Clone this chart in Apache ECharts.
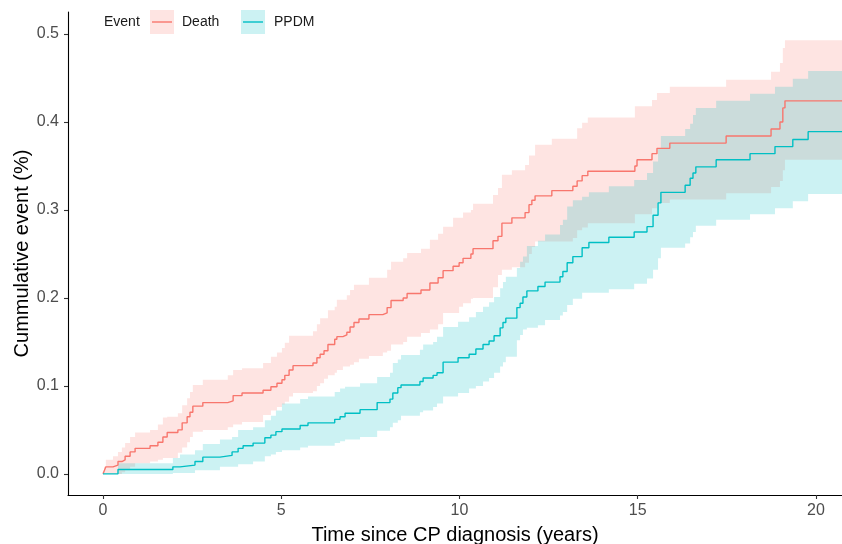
<!DOCTYPE html>
<html>
<head>
<meta charset="utf-8">
<script src="https://cdn.jsdelivr.net/npm/echarts@6/dist/echarts.min.js"></script>
<style>
  html, body { margin: 0; padding: 0; background: #fff; }
  #main { width: 842px; height: 544px; }
</style>
</head>
<body>
<div id="main"></div>
<script>
// cumulative incidence (years, proportion)
var deathTime = [0, 0.03, 0.08, 0.28, 0.42, 0.53, 0.62, 0.76, 0.9, 1.32,
  1.54, 1.68, 1.8, 2.1, 2.22, 2.36, 2.44, 2.52, 2.8, 3.5,
  3.65, 3.9, 4.49, 4.71, 4.88, 5.02, 5.1, 5.22, 5.33, 5.89,
  6.0, 6.09, 6.2, 6.31, 6.5, 6.56, 6.73, 6.84, 6.93, 7.04,
  7.18, 7.46, 7.85, 7.97, 8.08, 8.42, 8.53, 8.92, 9.17, 9.4,
  9.54, 9.82, 9.99, 10.1, 10.32, 10.38, 10.94, 11.08, 11.19, 11.47,
  11.84, 11.95, 12.03, 12.12, 12.59, 13.18, 13.3, 13.44, 13.6, 14.92,
  14.98, 15.4, 15.54, 15.9, 17.48, 18.74, 18.99, 19.07, 19.13, 20.73];
var deathEst = [0, 0.003, 0.008, 0.01, 0.014, 0.016, 0.02, 0.025, 0.029, 0.032,
  0.036, 0.042, 0.047, 0.05, 0.058, 0.065, 0.07, 0.077, 0.081, 0.083,
  0.089, 0.092, 0.095, 0.099, 0.103, 0.107, 0.112, 0.118, 0.123, 0.126,
  0.132, 0.136, 0.14, 0.147, 0.153, 0.156, 0.158, 0.161, 0.167, 0.172,
  0.176, 0.181, 0.183, 0.189, 0.197, 0.2, 0.205, 0.209, 0.217, 0.223,
  0.231, 0.236, 0.24, 0.245, 0.25, 0.256, 0.265, 0.27, 0.285, 0.291,
  0.297, 0.306, 0.311, 0.316, 0.322, 0.327, 0.333, 0.339, 0.344, 0.35,
  0.357, 0.364, 0.37, 0.376, 0.384, 0.392, 0.4, 0.416, 0.424, 0.424];
var deathLow = [0, 0, 0, 0, 0, 0.002, 0.004, 0.008, 0.012, 0.014,
  0.016, 0.018, 0.018, 0.024, 0.03, 0.036, 0.042, 0.048, 0.05, 0.053,
  0.056, 0.059, 0.067, 0.072, 0.076, 0.079, 0.082, 0.088, 0.092, 0.094,
  0.1, 0.103, 0.108, 0.112, 0.115, 0.118, 0.122, 0.122, 0.124, 0.127,
  0.131, 0.134, 0.138, 0.14, 0.147, 0.15, 0.156, 0.16, 0.164, 0.17,
  0.183, 0.183, 0.19, 0.194, 0.199, 0.2, 0.212, 0.226, 0.232, 0.235,
  0.24, 0.25, 0.258, 0.264, 0.264, 0.268, 0.277, 0.28, 0.285, 0.295,
  0.295, 0.302, 0.308, 0.312, 0.319, 0.326, 0.333, 0.345, 0.357, 0.357];
var deathHigh = [0, 0.008, 0.016, 0.02, 0.025, 0.03, 0.035, 0.042, 0.047, 0.05,
  0.056, 0.064, 0.065, 0.069, 0.078, 0.086, 0.093, 0.101, 0.107, 0.112,
  0.118, 0.12, 0.126, 0.133, 0.138, 0.143, 0.149, 0.157, 0.157, 0.162,
  0.17, 0.177, 0.177, 0.186, 0.19, 0.198, 0.198, 0.203, 0.209, 0.215,
  0.215, 0.223, 0.223, 0.232, 0.241, 0.245, 0.251, 0.256, 0.266, 0.273,
  0.281, 0.291, 0.291, 0.297, 0.3, 0.307, 0.317, 0.325, 0.34, 0.345,
  0.351, 0.362, 0.362, 0.374, 0.381, 0.381, 0.393, 0.399, 0.405, 0.418,
  0.418, 0.425, 0.433, 0.44, 0.448, 0.457, 0.467, 0.484, 0.493, 0.493];

var ppdmTime = [0, 0.42, 1.96, 2.16, 2.58, 2.8, 3.28, 3.62, 3.79, 3.93,
  4.21, 4.54, 4.71, 4.85, 5.02, 5.53, 5.75, 6.5, 6.65, 6.79,
  7.21, 7.69, 8.05, 8.13, 8.27, 8.36, 8.89, 8.98, 9.26, 9.37,
  9.54, 9.96, 10.27, 10.46, 10.66, 10.83, 10.97, 11.14, 11.22, 11.3,
  11.61, 11.7, 11.78, 11.89, 12.2, 12.4, 12.82, 12.9, 13.02, 13.18,
  13.44, 13.63, 14.19, 14.9, 15.26, 15.43, 15.57, 15.65, 16.33, 16.47,
  16.55, 16.63, 17.2, 18.15, 18.85, 19.35, 19.78, 20.73];
var ppdmEst = [0, 0.005, 0.008, 0.01, 0.014, 0.019, 0.021, 0.025, 0.029, 0.032,
  0.035, 0.041, 0.044, 0.048, 0.051, 0.055, 0.058, 0.062, 0.065, 0.069,
  0.073, 0.081, 0.085, 0.092, 0.098, 0.101, 0.105, 0.109, 0.112, 0.115,
  0.127, 0.132, 0.136, 0.142, 0.147, 0.151, 0.157, 0.166, 0.172, 0.177,
  0.189, 0.194, 0.201, 0.208, 0.213, 0.218, 0.224, 0.23, 0.24, 0.247,
  0.257, 0.263, 0.269, 0.275, 0.281, 0.294, 0.308, 0.32, 0.328, 0.336,
  0.342, 0.349, 0.357, 0.364, 0.372, 0.38, 0.389, 0.389];
var ppdmLow = [0, 0, 0.001, 0.001, 0.004, 0.004, 0.008, 0.008, 0.011, 0.011,
  0.014, 0.02, 0.022, 0.025, 0.027, 0.03, 0.032, 0.035, 0.037, 0.039,
  0.042, 0.049, 0.053, 0.058, 0.061, 0.066, 0.07, 0.072, 0.076, 0.08,
  0.088, 0.092, 0.097, 0.1, 0.105, 0.109, 0.115, 0.122, 0.127, 0.133,
  0.152, 0.158, 0.164, 0.166, 0.169, 0.175, 0.18, 0.184, 0.192, 0.199,
  0.206, 0.206, 0.21, 0.216, 0.222, 0.232, 0.245, 0.257, 0.262, 0.269,
  0.275, 0.282, 0.289, 0.295, 0.302, 0.31, 0.318, 0.318];
var ppdmHigh = [0, 0.012, 0.018, 0.022, 0.027, 0.034, 0.039, 0.042, 0.05, 0.05,
  0.053, 0.061, 0.066, 0.072, 0.08, 0.085, 0.088, 0.093, 0.097, 0.099,
  0.103, 0.11, 0.115, 0.126, 0.13, 0.135, 0.141, 0.147, 0.15, 0.156,
  0.167, 0.173, 0.178, 0.184, 0.19, 0.195, 0.201, 0.211, 0.218, 0.224,
  0.234, 0.241, 0.247, 0.259, 0.265, 0.272, 0.283, 0.289, 0.304, 0.311,
  0.315, 0.32, 0.327, 0.334, 0.342, 0.355, 0.37, 0.384, 0.392, 0.398,
  0.408, 0.416, 0.424, 0.432, 0.44, 0.449, 0.458, 0.458];

var xTicks = [0, 5, 10, 15, 20];
var yTicks = [0, 0.1, 0.2, 0.3, 0.4, 0.5];

var deathColor = '#F8766D';
var ppdmColor = '#00BFC4';
var deathFill = 'rgba(248,118,109,0.2)';
var ppdmFill = 'rgba(0,191,196,0.2)';
var font = '"Liberation Sans", Arial, Helvetica, sans-serif';

function pairs(xs, ys) {
  return xs.map(function (x, i) { return [x, ys[i]]; });
}

// confidence ribbon as one step-shaped polygon, placed with api.coord
function ribbon(name, t, lo, hi, fill) {
  return {
    name: name, type: 'custom', silent: true, z: 1, clip: true,
    data: t.map(function (x, i) { return [x, lo[i], hi[i]]; }),
    encode: { x: 0, y: [1, 2] },
    renderItem: function (params, api) {
      if (params.dataIndex !== 0) return null;
      var top = [], bottom = [];
      for (var i = 0; i < t.length; i++) {
        var next = i + 1 < t.length ? t[i + 1] : t[i];
        top.push(api.coord([t[i], hi[i]]), api.coord([next, hi[i]]));
        bottom.push(api.coord([t[i], lo[i]]), api.coord([next, lo[i]]));
      }
      return {
        type: 'polygon',
        shape: { points: top.concat(bottom.reverse()) },
        style: { fill: fill, stroke: null }
      };
    }
  };
}
function stepLine(name, t, est, color) {
  return {
    name: name, type: 'line', step: 'end', symbol: 'none', z: 3,
    lineStyle: { color: color, width: 1.4 },
    itemStyle: { color: color },
    data: pairs(t, est)
  };
}

var myChart = echarts.init(document.getElementById('main'), null, { renderer: 'canvas' });

var option = {
  animation: false,
  backgroundColor: '#fff',
  grid: { left: 68, right: 0, top: 12, bottom: 49, outerBoundsMode: 'none' },
  xAxis: {
    type: 'value',
    min: -0.982,
    max: 20.73,
    name: 'Time since CP diagnosis (years)',
    nameLocation: 'middle',
    nameGap: 30,
    nameMoveOverlap: false,
    nameTextStyle: { fontFamily: font, fontSize: 20, color: '#000' },
    axisLine: { show: true, onZero: false, lineStyle: { color: '#000', width: 1.1 } },
    axisTick: { show: true, length: 4, customValues: xTicks, lineStyle: { color: '#333', width: 1.1 } },
    axisLabel: {
      customValues: xTicks, margin: 8,
      fontFamily: font, fontSize: 16, color: '#4d4d4d'
    },
    splitLine: { show: false }
  },
  yAxis: {
    type: 'value',
    min: -0.024,
    max: 0.525,
    name: 'Cummulative event (%)',
    nameLocation: 'middle',
    nameGap: 36,
    nameMoveOverlap: false,
    nameTextStyle: { fontFamily: font, fontSize: 20, color: '#000' },
    axisLine: { show: true, onZero: false, lineStyle: { color: '#000', width: 1.1 } },
    axisTick: { show: true, length: 4, customValues: yTicks, lineStyle: { color: '#333', width: 1.1 } },
    axisLabel: {
      customValues: yTicks, margin: 9,
      fontFamily: font, fontSize: 16, color: '#4d4d4d',
      formatter: function (v) { return v.toFixed(1); }
    },
    splitLine: { show: false }
  },
  graphic: [
    { type: 'text', left: 104, top: 15, style: { text: 'Event', font: '14px ' + font, fill: '#1a1a1a' } },
    { type: 'rect', shape: { x: 150, y: 10, width: 24, height: 24 }, style: { fill: deathFill } },
    { type: 'line', shape: { x1: 152, y1: 22, x2: 172, y2: 22 }, style: { stroke: deathColor, lineWidth: 1.4 } },
    { type: 'text', left: 182, top: 15, style: { text: 'Death', font: '14px ' + font, fill: '#1a1a1a' } },
    { type: 'rect', shape: { x: 241, y: 10, width: 24, height: 24 }, style: { fill: ppdmFill } },
    { type: 'line', shape: { x1: 243, y1: 22, x2: 263, y2: 22 }, style: { stroke: ppdmColor, lineWidth: 1.4 } },
    { type: 'text', left: 274, top: 15, style: { text: 'PPDM', font: '14px ' + font, fill: '#1a1a1a' } }
  ],
  series: [
    ribbon('deathBand', deathTime, deathLow, deathHigh, deathFill),
    ribbon('ppdmBand', ppdmTime, ppdmLow, ppdmHigh, ppdmFill),
    stepLine('Death', deathTime, deathEst, deathColor),
    stepLine('PPDM', ppdmTime, ppdmEst, ppdmColor)
  ]
};
myChart.setOption(option);
</script>
</body>
</html>
